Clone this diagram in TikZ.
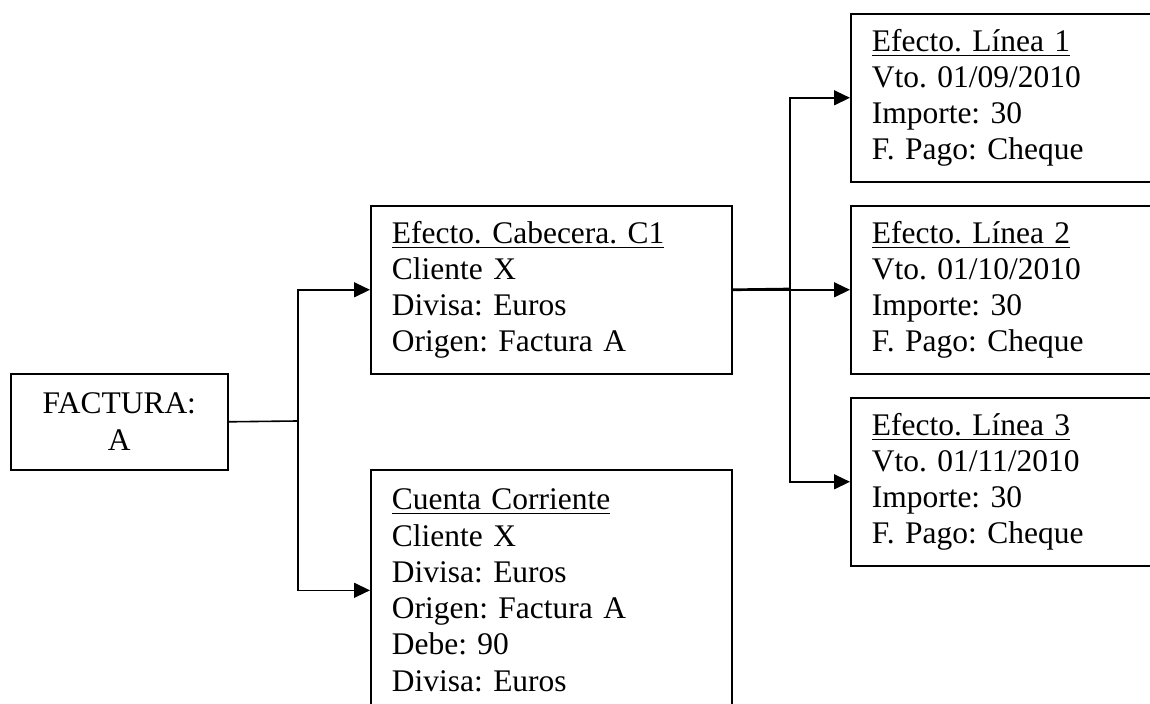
\documentclass[tikz,border=0pt]{standalone}
\usepackage{fontspec}
\setmainfont{Liberation Serif}
\usetikzlibrary{arrows.meta}

\tikzset{
  infobox/.style={draw, line width=0.6pt, anchor=north west, align=left,
    text width=119.6pt, inner xsep=7.9pt, inner ysep=0pt,
    minimum width=135.4pt, minimum height=63pt,
    font=\fontsize{11.8}{13.6}\selectfont\frenchspacing},
  link/.style={line width=0.6pt},
  arr/.style={link, -{Triangle[length=6pt,width=5.6pt]}}
}

\begin{document}
\begin{tikzpicture}[x=0.375pt,y=-0.375pt]
  \useasboundingbox (0,0) rectangle (1150,704);
  \clip (0,0) rectangle (1150,704);

  % left box
  \node[draw, line width=0.6pt, anchor=north west, align=center,
    minimum width=81.4pt, minimum height=36pt, inner sep=0pt,
    font=\fontsize{11.8}{14}\selectfont] (fac) at (10,373) {FACTURA:\\A};

  % middle boxes
  \node[infobox] (cab) at (370,205) {\underline{Efecto. Cabecera. C1}\\Cliente X\\Divisa: Euros\\Origen: Factura A};
  \node[infobox, minimum height=90.4pt] (cta) at (370,469) {\underline{Cuenta Corriente}\\Cliente X\\Divisa: Euros\\Origen: Factura A\\Debe: 90\\Divisa: Euros};

  % right boxes (cut by the page edge)
  \node[infobox] (lin1) at (850,13) {\underline{Efecto. Línea 1}\\Vto. 01/09/2010\\Importe: 30\\F. Pago: Cheque};
  \node[infobox] (lin2) at (850,205) {\underline{Efecto. Línea 2}\\Vto. 01/10/2010\\Importe: 30\\F. Pago: Cheque};
  \node[infobox] (lin3) at (850,397) {\underline{Efecto. Línea 3}\\Vto. 01/11/2010\\Importe: 30\\F. Pago: Cheque};

  % branch points
  \coordinate (s1) at (298,421);
  \coordinate (s2) at (790,289);

  \draw[link] (fac.east) -- (s1);
  \draw[arr] (s1) |- (cab.west);
  \draw[arr] (s1) |- (cta.west);

  \draw[link, line width=1pt] (cab.east) -- (s2);
  \draw[arr] (cab.east) -- (lin2.west);
  \draw[arr] (s2) |- (lin1.west);
  \draw[arr] (s2) |- (lin3.west);
\end{tikzpicture}
\end{document}
